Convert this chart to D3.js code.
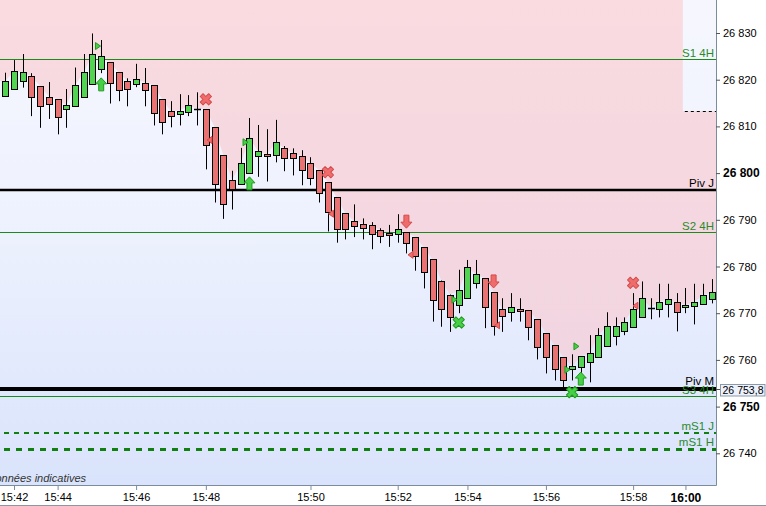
<!DOCTYPE html>
<html><head><meta charset="utf-8">
<script src="https://cdn.jsdelivr.net/npm/d3@7/dist/d3.min.js"></script>
<style>body{margin:0;background:#fff;}svg{display:block;font-family:"Liberation Sans",Arial,sans-serif;}</style>
</head><body>
<svg id="c" width="766" height="506"></svg>
<script>
// ---- data ----
const opens  = [26816.6,26818.1,26819.8,26820.7,26818.6,26816.4,26815.8,26813.8,26814.3,26816.4,26819.0,26822.2,26823.7,26821.6,26819.7,26819.0,26819.4,26818.8,26815.8,26813.2,26812.6,26813.0,26813.8,26813.7,26809.8,26803.8,26798.5,26797.6,26800.0,26803.6,26804.0,26803.8,26805.3,26804.2,26803.6,26802.1,26800.6,26798.0,26794.8,26791.4,26789.7,26789.2,26788.8,26787.8,26787.1,26786.9,26787.3,26786.3,26784.1,26781.5,26777.0,26774.0,26771.7,26773.2,26776.4,26777.5,26774.5,26770.8,26770.2,26770.8,26770.6,26768.7,26765.7,26763.1,26760.6,26758.0,26758.4,26759.5,26760.6,26762.9,26765.1,26766.1,26767.0,26769.1,26771.2,26771.0,26771.9,26772.3,26771.3,26771.5,26771.9,26773.0];
const highs  = [26821.5,26824.2,26825.5,26821.4,26818.6,26819.5,26815.8,26818.0,26822.6,26825.5,26829.9,26828.5,26823.7,26821.6,26820.3,26823.4,26822.5,26818.8,26815.8,26815.4,26816.9,26816.7,26817.3,26813.7,26809.8,26803.8,26800.5,26805.4,26811.8,26810.3,26809.4,26811.4,26805.8,26805.3,26804.9,26803.4,26800.6,26798.0,26794.8,26791.4,26793.3,26790.3,26789.5,26788.2,26788.9,26791.2,26787.3,26786.3,26784.1,26781.5,26777.0,26774.0,26779.3,26781.4,26781.4,26777.5,26774.5,26773.2,26774.3,26773.2,26770.6,26768.7,26765.7,26763.1,26760.6,26761.2,26760.8,26765.3,26766.8,26770.2,26769.1,26769.1,26774.3,26776.8,26773.2,26776.3,26776.3,26774.3,26775.4,26776.3,26776.3,26777.3];
const lows   = [26816.4,26818.1,26818.3,26812.2,26809.7,26811.6,26808.3,26809.7,26814.3,26816.4,26819.0,26821.4,26814.9,26815.4,26814.3,26818.4,26814.3,26810.2,26808.3,26809.8,26810.2,26812.2,26810.2,26800.8,26793.7,26790.2,26792.2,26797.6,26800.0,26799.2,26798.2,26802.3,26800.4,26799.5,26797.4,26797.4,26793.7,26787.5,26785.1,26785.8,26786.3,26785.8,26783.7,26785.0,26784.2,26785.1,26782.8,26779.1,26775.3,26768.2,26767.1,26766.0,26770.0,26773.2,26775.3,26766.8,26765.2,26766.0,26768.2,26768.2,26764.2,26760.1,26757.1,26755.6,26753.9,26755.6,26756.9,26755.2,26760.6,26762.9,26763.1,26765.3,26767.0,26769.1,26768.7,26769.1,26769.1,26766.1,26770.0,26767.6,26771.9,26772.1];
const closes = [26819.7,26821.8,26821.6,26816.4,26814.3,26814.9,26812.0,26814.5,26818.8,26821.6,26825.4,26825.0,26819.4,26817.9,26818.1,26820.1,26817.9,26812.8,26810.9,26812.2,26813.4,26814.5,26813.8,26806.0,26797.6,26793.3,26796.5,26802.1,26807.5,26804.7,26803.6,26806.6,26803.2,26803.2,26800.6,26798.9,26795.7,26791.6,26788.0,26788.0,26788.6,26788.2,26786.9,26786.5,26786.7,26788.0,26785.0,26782.2,26778.8,26772.8,26771.0,26769.1,26774.9,26779.8,26778.3,26771.3,26767.2,26769.5,26771.3,26770.4,26767.0,26762.7,26760.6,26758.0,26755.6,26758.6,26760.8,26761.4,26765.3,26767.2,26767.2,26768.1,26771.0,26773.2,26771.2,26772.5,26773.0,26770.2,26771.7,26772.5,26773.8,26774.5];

const yTickValues = [26740,26750,26760,26770,26780,26790,26800,26810,26820,26830];
const timeLabels = ["15:42","15:44","15:46","15:48","15:50","15:52","15:54","15:56","15:58","16:00"];
const timeIdx    = [1,6,15,23,35,45,53,62,72,78];

const levelNames  = ["S1 4H","Piv J","S2 4H","S3 4H","Piv M","mS1 J","mS1 H"];
const levelValues = [26824.4,26796.4,26787.3,26752.3,26753.8,26744.3,26740.9];
const levelKinds  = ["green","black","green","green","blackThick","greenDash","greenDashThick"];
const pivMLabel = "26 753,8";

const zoneStartIdx = 77.7;   // projection zone at the top right
const zoneLevel = 26813.3;

const markerTypes = ["triR","upG","xR","triL","triR","upG","xR","triL","downR","triL","triR","xG","downR","triL","triR","triR","upG","xG","xR","triL"];
const markerIdx   = [10.63,11,23,23.42,27.55,28,37,37.35,46,46.47,51.51,52,56,56.39,65.5,64.47,66,65,72,72.27];
const markerVals  = [26827.2,26819.0,26815.8,26807.1,26806.6,26797.8,26800.2,26791.3,26789.6,26782.5,26772.9,26768.0,26776.8,26767.4,26762.9,26757.9,26756.0,26753.1,26776.5,26771.6];

// ---- drawing ----
const svg = d3.select("#c");
const plotR = 716, plotB = 485;
const x = d3.scaleLinear().domain([0, opens.length - 1]).range([5.3, 711.6]);
const y = d3.scaleLinear().domain([26740, 26830]).range([453.3, 33]);

const defs = svg.append("defs");
const bg = defs.append("linearGradient").attr("id","bg").attr("gradientUnits","userSpaceOnUse")
  .attr("x1",0).attr("y1",0).attr("x2",0).attr("y2",plotB);
bg.append("stop").attr("offset",0).attr("stop-color","#f6f7fe");
bg.append("stop").attr("offset",0.45).attr("stop-color","#eef2fe");
bg.append("stop").attr("offset",1).attr("stop-color","#d9e3fb");
const pk = defs.append("linearGradient").attr("id","pk").attr("gradientUnits","userSpaceOnUse")
  .attr("x1",0).attr("y1",0).attr("x2",0).attr("y2",400);
pk.append("stop").attr("offset",0).attr("stop-color","#f9dbe0");
pk.append("stop").attr("offset",1).attr("stop-color","#f0d4e0");
defs.append("clipPath").attr("id","clip").append("rect").attr("x",0).attr("y",0).attr("width",plotR).attr("height",plotB);

svg.append("rect").attr("x",0).attr("y",0).attr("width",plotR).attr("height",plotB).attr("fill","url(#bg)");

const g = svg.append("g").attr("clip-path","url(#clip)");

// pink area above the body tops
const idx = d3.range(opens.length);
const tops = idx.map(i => Math.max(opens[i], closes[i]));
const pts = [[0, y(tops[0])]].concat(idx.map(i => [x(i), y(tops[i])])).concat([[plotR, y(tops[tops.length-1])]]);
g.append("path").attr("d", d3.area().x(d => d[0]).y0(0).y1(d => d[1])(pts)).attr("fill","url(#pk)");

// projection zone
g.append("rect").attr("x", x(zoneStartIdx)).attr("y",0).attr("width", plotR - x(zoneStartIdx)).attr("height", y(zoneLevel))
  .attr("fill","url(#bg)");
g.append("line").attr("x1", x(zoneStartIdx)+2).attr("x2", plotR).attr("y1", Math.round(y(zoneLevel))+0.5).attr("y2", Math.round(y(zoneLevel))+0.5)
  .attr("stroke","#000").attr("stroke-width",1).attr("stroke-dasharray","3,3");

// level lines & labels
const styles = {
  green: {c:"#1a8a1a", w:1, d:null},
  black: {c:"#000", w:2.5, d:null},
  blackThick: {c:"#000", w:4, d:null},
  greenDash: {c:"#108010", w:2, d:"5,5"},
  greenDashThick: {c:"#108010", w:3, d:"6,6"}
};
const order = [3,0,1,2,4,5,6];
order.forEach(i => {
  const st = styles[levelKinds[i]];
  const yy = y(levelValues[i]);
  const ly = st.w % 2 === 1 ? Math.round(yy) + 0.5 : Math.round(yy);
  const startX = st.d ? 4 : 0;
  g.append("line").attr("x1",startX).attr("x2",plotR).attr("y1",ly).attr("y2",ly)
    .attr("stroke",st.c).attr("stroke-width",st.w).attr("stroke-dasharray",st.d);
  const isBlack = levelKinds[i].startsWith("black");
  svg.append("text").attr("x",714).attr("y", ly - st.w/2 - 2)
    .attr("text-anchor","end").attr("font-size",11.5)
    .attr("fill", isBlack ? "#000" : "#2a8a2a").text(levelNames[i]);
});

// candles
const cg = g.append("g");
idx.forEach(i => {
  const cx = Math.round(x(i));
  const o = opens[i], c = closes[i];
  cg.append("line").attr("x1",cx+0.5).attr("x2",cx+0.5).attr("y1",y(highs[i])).attr("y2",y(lows[i]))
    .attr("stroke","#000").attr("stroke-width",1);
  if (o === c) {
    cg.append("line").attr("x1",cx-3).attr("x2",cx+4).attr("y1",Math.round(y(o))+0.5).attr("y2",Math.round(y(o))+0.5)
      .attr("stroke","#000").attr("stroke-width",1.5);
  } else {
    const t = Math.round(y(Math.max(o,c))), b = Math.round(y(Math.min(o,c)));
    cg.append("rect").attr("x",cx-2.5).attr("y",t+0.5).attr("width",6).attr("height",Math.max(1,b-t))
      .attr("fill", c > o ? "#52d352" : "#e97272").attr("stroke","#000").attr("stroke-width",1);
  }
});

// markers
const shapes = {
  up: "M0,-6.5L5.5,-0.5L2.5,-0.5L2.5,6.5L-2.5,6.5L-2.5,-0.5L-5.5,-0.5Z",
  down: "M0,6.5L5.5,0.5L2.5,0.5L2.5,-6.5L-2.5,-6.5L-2.5,0.5L-5.5,0.5Z",
  triR: "M-2.5,-3.5L2.5,0L-2.5,3.5Z",
  triL: "M2.5,-3.5L-2.5,0L2.5,3.5Z",
  x: d3.symbol(d3.symbolCross, 80)()
};
const mg = g.append("g");
markerTypes.forEach((t, i) => {
  const px = x(markerIdx[i]), py = y(markerVals[i]);
  const green = t === "upG" || t === "xG" || t === "triR";
  const fill = green ? "#48cf48" : "#f06c6c";
  const stroke = green ? "#1f9a1f" : "#d24a4a";
  let d, rot = 0;
  if (t === "upG") d = shapes.up;
  else if (t === "downR") d = shapes.down;
  else if (t === "triR") d = shapes.triR;
  else if (t === "triL") d = shapes.triL;
  else { d = shapes.x; rot = 45; }
  mg.append("path").attr("d", d).attr("transform", `translate(${px},${py}) rotate(${rot})`)
    .attr("fill", fill).attr("stroke", stroke).attr("stroke-width", 1)
    .attr("stroke-linejoin","round");
});

// disclaimer
svg.append("text").attr("x",86).attr("y",482).attr("text-anchor","end").attr("font-size",11)
  .attr("font-style","italic").attr("fill","#333").text("Données indicatives");

// frame
svg.append("line").attr("x1",plotR+0.5).attr("x2",plotR+0.5).attr("y1",0).attr("y2",plotB+0.5).attr("stroke","#7d8c9c");
svg.append("line").attr("x1",0).attr("x2",plotR+0.5).attr("y1",plotB+0.5).attr("y2",plotB+0.5).attr("stroke","#7d8c9c");
svg.append("line").attr("x1",0).attr("x2",766).attr("y1",505.5).attr("y2",505.5).attr("stroke","#8a97a5");

// y axis
const fmt = v => d3.format(",")(v).replace(/,/g, " ");
const yAxis = d3.axisRight(y).tickValues(yTickValues).tickSize(4).tickPadding(3).tickFormat(fmt);
const ya = svg.append("g").attr("transform",`translate(${plotR},0)`).call(yAxis);
ya.select(".domain").remove();
ya.selectAll(".tick line").attr("stroke","#555");
ya.selectAll(".tick text").attr("font-size", d => d % 50 === 0 ? 12 : 11)
  .attr("font-weight", d => d % 50 === 0 ? "bold" : "normal").attr("fill","#000")
  .attr("font-family","'Liberation Sans',Arial,sans-serif");

// Piv M price box
const pmY = y(levelValues[4]);
svg.append("line").attr("x1",plotR).attr("x2",plotR+4).attr("y1",Math.round(pmY)+0.5).attr("y2",Math.round(pmY)+0.5).attr("stroke","#555");
svg.append("rect").attr("x",720.5).attr("y",Math.round(pmY)-4.5).attr("width",44.5).attr("height",11.5)
  .attr("fill","#eef2fc").attr("stroke","#8a9aaa");
svg.append("text").attr("x",722.5).attr("y",Math.round(pmY)+5).attr("font-size",10.5)
  .attr("textLength",41).attr("lengthAdjust","spacingAndGlyphs").attr("fill","#000").text(pivMLabel);

// x axis
const xAxis = d3.axisBottom(x).tickValues(timeIdx).tickSize(5).tickPadding(3)
  .tickFormat(d => timeLabels[timeIdx.indexOf(d)]);
const xa = svg.append("g").attr("transform",`translate(0,${plotB})`).call(xAxis);
xa.select(".domain").remove();
xa.selectAll(".tick line").attr("stroke","#7d8c9c");
xa.selectAll(".tick text").attr("font-size", d => d === 78 ? 12 : 11)
  .attr("font-weight", d => d === 78 ? "bold" : "normal").attr("fill","#000")
  .attr("font-family","'Liberation Sans',Arial,sans-serif");
</script>
</body></html>
